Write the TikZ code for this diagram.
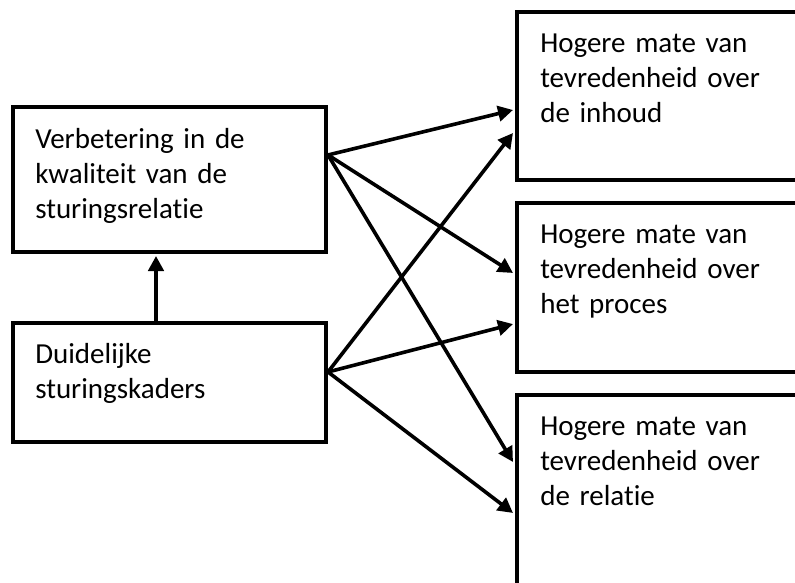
\documentclass[tikz,border=0pt]{standalone}
\usepackage{fontspec}
\setmainfont{Carlito}[Ligatures=NoCommon]
\usetikzlibrary{arrows.meta}
\begin{document}
\begin{tikzpicture}[x=0.75pt,y=-0.75pt,
  box/.style={draw, line width=3pt, inner sep=0pt, rectangle},
  lbl/.style={anchor=base west, align=left, inner sep=0pt, text width=200pt,
    font=\fontsize{21.75}{26.25}\selectfont},
  arr/.style={line width=2.7pt, -{Triangle[length=11.25pt,width=11.5pt]}}]
\useasboundingbox (0,0) rectangle (795,582);
\clip (0,0) rectangle (795,582);

% left column
\node[box, minimum width=234.75pt, minimum height=108.75pt] (L1) at (169.5,179.5) {};
\node[box, minimum width=234.75pt, minimum height=89.25pt] (L2) at (169.5,382.5) {};
% right column (running past the page edge)
\node[box, minimum width=234.75pt, minimum height=126pt] (R1) at (673.5,96) {};
\node[box, minimum width=234.75pt, minimum height=126.75pt] (R2) at (673.5,287.5) {};
\node[box, minimum width=234.75pt, minimum height=168.75pt] (R3) at (673.5,507.5) {};

% labels
\node[lbl] (tL1) at (35,148) {Verbetering in de\\kwaliteit van de\\sturingsrelatie};
\node[lbl] (tL2) at (35,363) {Duidelijke\\sturingskaders};
\node[lbl] (tR1) at (540,52) {Hogere mate van\\tevredenheid over\\de inhoud};
\node[lbl] (tR2) at (540,243) {Hogere mate van\\tevredenheid over\\het proces};
\node[lbl] (tR3) at (540,435) {Hogere mate van\\tevredenheid over\\de relatie};

% connector end points
\coordinate (s1) at ([yshift=18.4pt]L1.east);
\coordinate (s2) at ([yshift=7.9pt]L2.east);
\coordinate (a1) at ([xshift=-1.5pt,yshift=-10.5pt]R1.west);
\coordinate (b1) at ([xshift=-1.5pt,yshift=-27.75pt]R1.west);
\coordinate (a2) at ([xshift=-1.5pt,yshift=10.9pt]R2.west);
\coordinate (b2) at ([xshift=-1.5pt,yshift=-27.4pt]R2.west);
\coordinate (a3) at ([xshift=-1.5pt,yshift=34.1pt]R3.west);
\coordinate (b3) at ([xshift=-1.5pt,yshift=-4.1pt]R3.west);
\coordinate (u0) at ([xshift=108.75pt]L2.north west);
\coordinate (u1) at ([xshift=108.75pt,yshift=-1.5pt]L1.south west);

% connectors
\draw[arr] (u0) -- (u1);
\draw[arr] (s1) -- (a1);
\draw[arr] (s1) -- (a2);
\draw[arr] (s1) -- (a3);
\draw[arr] (s2) -- (b1);
\draw[arr] (s2) -- (b2);
\draw[arr] (s2) -- (b3);
\end{tikzpicture}
\end{document}
